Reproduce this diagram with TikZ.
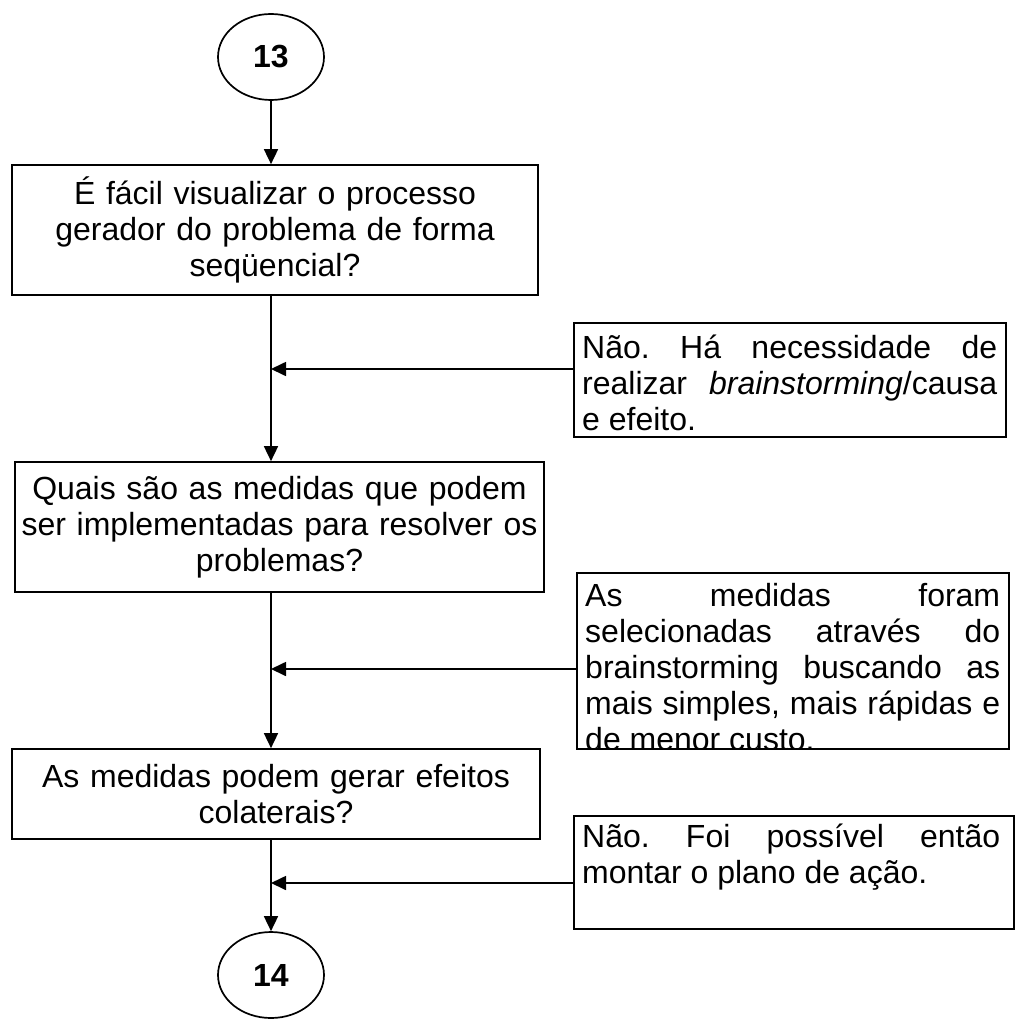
\documentclass[tikz,border=0pt]{standalone}
\usepackage{fontspec}
\setmainfont{Liberation Sans}
\usetikzlibrary{arrows.meta,shapes.geometric}
\begin{document}
\frenchspacing
\begin{tikzpicture}[x=1pt,y=-1pt,
  every node/.style={font=\fontsize{32}{36}\selectfont},
  box/.style={draw,line width=1.7pt,inner ysep=0pt,inner xsep=1pt,align=center},
  side/.style={draw,line width=1.7pt,inner sep=0pt,anchor=north west},
  txt/.style={inner sep=0pt,anchor=north west,align=justify},
  arr/.style={line width=1.7pt,-{Triangle[length=15pt,width=14pt]}},
  circ/.style={draw,ellipse,line width=1.7pt,minimum width=106pt,minimum height=86pt,inner sep=0pt,font=\fontsize{32}{36}\selectfont\bfseries}]
\useasboundingbox (0,0) rectangle (1015,1019);
\hyphenpenalty=10000
% main column
\node[circ] (c13) at (271,57) {13};
\node[box,text width=524pt,minimum height=130pt] (b1) at (275,230) {É fácil visualizar o processo\\gerador do problema de forma\\seqüencial?};
\node[box,text width=527pt,minimum height=130pt] (b2) at (279.5,527) {Quais são as medidas que podem\\ser implementadas para resolver os\\problemas?};
\node[box,text width=526pt,minimum height=90pt] (b3) at (276,794) {As medidas podem gerar efeitos\\colaterais?};
\node[circ] (c14) at (271,975) {14};
% side boxes
\node[side,minimum width=432pt,minimum height=114pt] (s1) at (573,322) {};
\node[txt,text width=415pt] (s1t) at (582,330) {\rule{0pt}{28pt}Não. Há necessidade de\linebreak realizar \textit{brainstorming}/causa\linebreak e efeito.};
\node[side,minimum width=432pt,minimum height=176pt] (s2) at (576,572) {};
\begin{scope}
\clip (s2.north west) rectangle (s2.south east);
\node[txt,text width=415pt] (s2t) at (585,578) {\rule{0pt}{28pt}As medidas foram\linebreak selecionadas através do\linebreak brainstorming buscando as\linebreak mais simples, mais rápidas e\linebreak de menor custo.};
\end{scope}
\node[side,minimum width=440pt,minimum height=113pt] (s3) at (573,815) {};
\node[txt,text width=418pt] (s3t) at (582,819) {\rule{0pt}{28pt}Não. Foi possível então\linebreak montar o plano de ação.};
% junctions
\coordinate (j1) at (271,369);
\coordinate (j2) at (271,669);
\coordinate (j3) at (271,883);
% connectors
\draw[arr] (c13.south) -- (c13.south |- b1.north);
\draw[arr] (c13.south |- b1.south) -- (c13.south |- b2.north);
\draw[arr] (j1 -| s1.west) -- (j1);
\draw[arr] (c13.south |- b2.south) -- (c13.south |- b3.north);
\draw[arr] (j2 -| s2.west) -- (j2);
\draw[arr] (c13.south |- b3.south) -- (c14.north);
\draw[arr] (j3 -| s3.west) -- (j3);
\end{tikzpicture}
\end{document}
